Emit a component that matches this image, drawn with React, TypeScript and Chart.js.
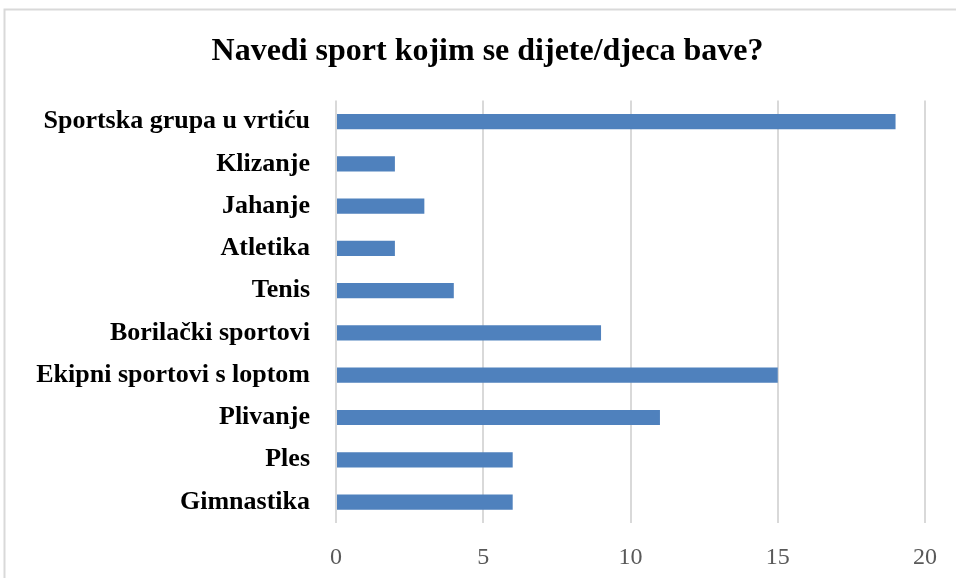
import React, { useEffect, useRef } from "react";
import { Chart, registerables } from "chart.js";

Chart.register(...registerables);

const TITLE = "Navedi sport kojim se dijete/djeca bave?";
const categories = [
  "Sportska grupa u vrtiću",
  "Klizanje",
  "Jahanje",
  "Atletika",
  "Tenis",
  "Borilački sportovi",
  "Ekipni sportovi s loptom",
  "Plivanje",
  "Ples",
  "Gimnastika",
];
const values = [19, 2, 3, 2, 4, 9, 15, 11, 6, 6];
const xMin = 0;
const xMax = 20;
const xStep = 5;

const SERIF = "'Liberation Serif', 'Times New Roman', serif";

const borderPlugin = {
  id: "outerBorder",
  beforeDraw(chart: any) {
    const ctx = chart.ctx;
    ctx.save();
    ctx.fillStyle = "#ffffff";
    ctx.fillRect(0, 0, chart.width, chart.height);
    ctx.strokeStyle = "#d9d9d9";
    ctx.lineWidth = 2;
    ctx.strokeRect(4.5, 9.5, chart.width + 50, chart.height + 50);
    ctx.restore();
  },
};

export default function App() {
  const ref = useRef<HTMLCanvasElement>(null);
  useEffect(() => {
    if (!ref.current) return;
    const chart = new Chart(ref.current, {
      type: "bar",
      data: {
        labels: categories,
        datasets: [
          {
            data: values,
            backgroundColor: "#4f81bd",
            borderWidth: 0,
            barPercentage: 0.36,
            categoryPercentage: 1,
            xAxisID: "x",
            yAxisID: "y",
          },
        ],
      },
      options: {
        indexAxis: "y",
        animation: false,
        responsive: true,
        maintainAspectRatio: false,
        layout: { padding: { left: 10, right: 35, top: 0, bottom: 2 } },
        plugins: {
          legend: { display: false },
          tooltip: { enabled: false },
          title: {
            display: true,
            text: TITLE,
            color: "#000000",
            font: { family: SERIF, size: 32, weight: "bold" },
            padding: { top: 33, bottom: 29 },
          },
        },
        scales: {
          x: {
            min: xMin,
            max: xMax,
            ticks: {
              stepSize: xStep,
              color: "#595959",
              padding: 20,
              font: { family: SERIF, size: 24 },
            },
            grid: { color: "#d9d9d9", lineWidth: 2, drawTicks: false },
            border: { display: false },
          },
          y: {
            afterFit: (scale: any) => {
              scale.width = 326;
            },
            ticks: {
              color: "#000000",
              padding: 26,
              font: { family: SERIF, size: 26, weight: "bold" },
            },
            grid: { display: false, drawTicks: false },
            border: { display: false },
          },
          spacer: {
            type: "linear",
            position: "right",
            display: true,
            afterFit: (scale: any) => {
              scale.width = 40;
            },
            ticks: { display: false },
            grid: { display: false, drawTicks: false },
            border: { display: false },
          },
        },
      },
      plugins: [borderPlugin],
    });
    return () => chart.destroy();
  }, []);
  return (
    <div style={{ position: "fixed", left: 0, top: 0, width: 956, height: 578, overflow: "hidden", background: "#fff" }}>
      <div style={{ position: "relative", width: 1000, height: 594 }}>
        <canvas ref={ref} />
      </div>
    </div>
  );
}
